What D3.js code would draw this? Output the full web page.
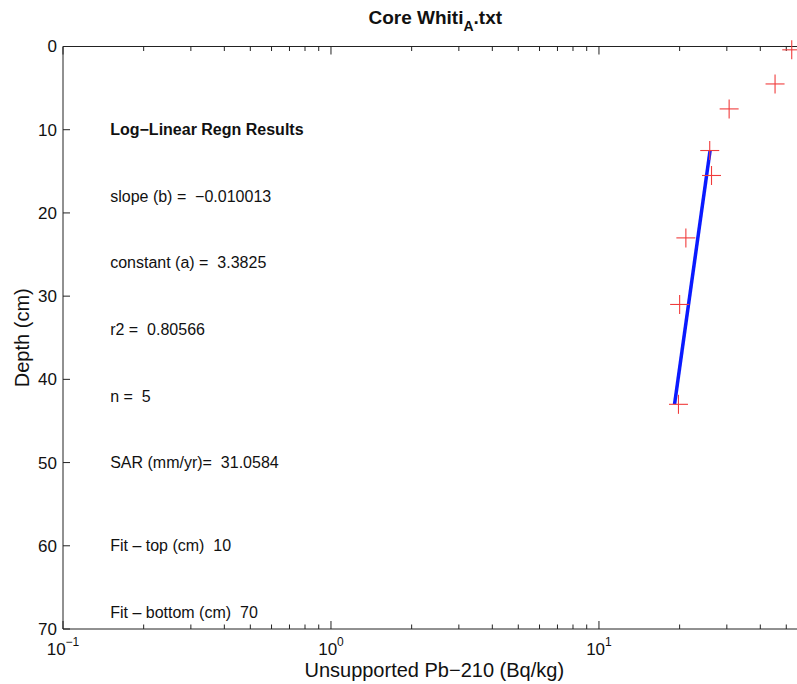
<!DOCTYPE html>
<html>
<head>
<meta charset="utf-8">
<script src="https://cdnjs.cloudflare.com/ajax/libs/d3/7.8.5/d3.min.js"></script>
<style>
  html, body { margin: 0; padding: 0; background: #fff; }
  svg { display: block; font-family: "Liberation Sans", Arial, Helvetica, sans-serif; }
  svg text { white-space: pre; }
</style>
</head>
<body>
<svg id="chart" width="797" height="684"></svg>
<script>
// Unsupported Pb-210 activity (Bq/kg) against core depth (cm)
const depths = [0.4, 4.5, 7.5, 12.5, 15.5, 23, 31, 43];
const activity = [52.4, 45.4, 30.6, 25.9, 26.3, 21.1, 20.0, 19.8];

// Log-linear regression: ln(A) = a + b * depth, over the fitted depth range
const fitSlope = -0.010013;
const fitConst = 3.3825;
const fitDepths = [12.5, 43];

// Annotation block: label text and the depth it sits at
const noteLines = [
  "slope (b) =  \u22120.010013",
  "constant (a) =  3.3825",
  "r2 =  0.80566",
  "n =  5",
  "SAR (mm/yr)=  31.0584",
  "Fit \u2013 top (cm)  10",
  "Fit \u2013 bottom (cm)  70"
];
const noteDepths = [18, 26, 34, 42, 50, 60, 68];
const noteHeader = "Log\u2212Linear Regn Results";
const noteHeaderDepth = 10;
const noteX = 0.15;

const yTicks = [0, 10, 20, 30, 40, 50, 60, 70];
const xMajor = [0.1, 1, 10];

(function draw() {
  const svg = d3.select("#chart");
  const mLeft = 63, mRight = 807.5, mTop = 46.5, mBottom = 629;

  const x = d3.scaleLog().domain([0.1, 60]).range([mLeft, mRight]);
  const y = d3.scaleLinear().domain([0, 70]).range([mTop, mBottom]);

  const axisColor = "#222";

  // minor ticks for the log axis
  const xMinor = [];
  [0.1, 1, 10].forEach(d => { for (let k = 2; k <= 9; k++) { const v = d * k; if (v <= 60) xMinor.push(v); } });

  // x axes (bottom and top) with inward ticks
  const gx = svg.append("g");
  gx.append("line").attr("x1", mLeft).attr("x2", mRight).attr("y1", mBottom).attr("y2", mBottom).attr("stroke", axisColor);
  gx.append("line").attr("x1", mLeft).attr("x2", mRight).attr("y1", mTop).attr("y2", mTop).attr("stroke", axisColor);
  gx.selectAll(".mjb").data(xMajor).join("line")
    .attr("x1", d => x(d)).attr("x2", d => x(d)).attr("y1", mBottom).attr("y2", mBottom - 8).attr("stroke", axisColor);
  gx.selectAll(".mjt").data(xMajor).join("line")
    .attr("x1", d => x(d)).attr("x2", d => x(d)).attr("y1", mTop).attr("y2", mTop + 8).attr("stroke", axisColor);
  gx.selectAll(".mnb").data(xMinor).join("line")
    .attr("x1", d => x(d)).attr("x2", d => x(d)).attr("y1", mBottom).attr("y2", mBottom - 4.5).attr("stroke", axisColor);
  gx.selectAll(".mnt").data(xMinor).join("line")
    .attr("x1", d => x(d)).attr("x2", d => x(d)).attr("y1", mTop).attr("y2", mTop + 4.5).attr("stroke", axisColor);

  // x tick labels as 10 with a superscript exponent
  const xl = gx.selectAll(".xl").data(xMajor).join("text")
    .attr("x", d => x(d)).attr("y", mBottom + 26)
    .attr("text-anchor", "middle").attr("font-size", 17).attr("fill", "#111");
  xl.append("tspan").text("10");
  xl.append("tspan").attr("dy", -9).attr("font-size", 12)
    .text(d => { const e = Math.round(Math.log10(d)); return e < 0 ? "\u2212" + (-e) : String(e); });

  // y axis with inward ticks
  const gy = svg.append("g");
  gy.append("line").attr("x1", mLeft).attr("x2", mLeft).attr("y1", mTop).attr("y2", mBottom).attr("stroke", axisColor);
  gy.selectAll(".yt").data(yTicks).join("line")
    .attr("x1", mLeft).attr("x2", mLeft + 7).attr("y1", d => y(d)).attr("y2", d => y(d)).attr("stroke", axisColor);
  gy.selectAll(".yl").data(yTicks).join("text")
    .attr("x", mLeft - 6).attr("y", d => y(d)).attr("dy", "0.35em")
    .attr("text-anchor", "end").attr("font-size", 17).attr("fill", "#111")
    .text(d => d);

  // axis titles and chart title
  svg.append("text").attr("x", (mLeft + mRight) / 2 - 1).attr("y", 677)
    .attr("text-anchor", "middle").attr("font-size", 20).attr("fill", "#111")
    .text("Unsupported Pb\u2212210 (Bq/kg)");
  svg.append("text").attr("transform", `translate(29,${(mTop + mBottom) / 2}) rotate(-90)`)
    .attr("text-anchor", "middle").attr("font-size", 20).attr("fill", "#111")
    .text("Depth (cm)");
  const title = svg.append("text").attr("x", (mLeft + mRight) / 2).attr("y", 24)
    .attr("text-anchor", "middle").attr("font-size", 19).attr("font-weight", "bold").attr("fill", "#111");
  title.append("tspan").text("Core Whiti");
  title.append("tspan").attr("dy", 7).attr("font-size", 14).text("A");
  title.append("tspan").attr("dy", -7).text(".txt");

  // regression results text
  svg.append("text").attr("x", x(noteX)).attr("y", y(noteHeaderDepth)).attr("dy", "0.35em")
    .attr("font-size", 16).attr("font-weight", "bold").attr("fill", "#111").text(noteHeader);
  svg.selectAll(".note").data(noteLines).join("text")
    .attr("x", x(noteX)).attr("y", (d, i) => y(noteDepths[i])).attr("dy", "0.35em")
    .attr("font-size", 16).attr("fill", "#111").text(d => d);

  // fitted line
  const fitLine = d3.line().x(d => x(Math.exp(fitConst + fitSlope * d))).y(d => y(d));
  svg.append("path").datum(fitDepths).attr("d", fitLine)
    .attr("fill", "none").attr("stroke", "#0a1aff").attr("stroke-width", 3.5);

  // measured points as plus markers
  const pts = depths.map((d, i) => ({ d, a: activity[i] }));
  const arm = 9.5;
  const gp = svg.append("g").attr("stroke", "#f03c3c").attr("stroke-width", 1.1);
  gp.selectAll(".h").data(pts).join("line")
    .attr("x1", p => x(p.a) - arm).attr("x2", p => x(p.a) + arm)
    .attr("y1", p => y(p.d)).attr("y2", p => y(p.d));
  gp.selectAll(".v").data(pts).join("line")
    .attr("x1", p => x(p.a)).attr("x2", p => x(p.a))
    .attr("y1", p => y(p.d) - arm).attr("y2", p => y(p.d) + arm);
})();
</script>
</body>
</html>
